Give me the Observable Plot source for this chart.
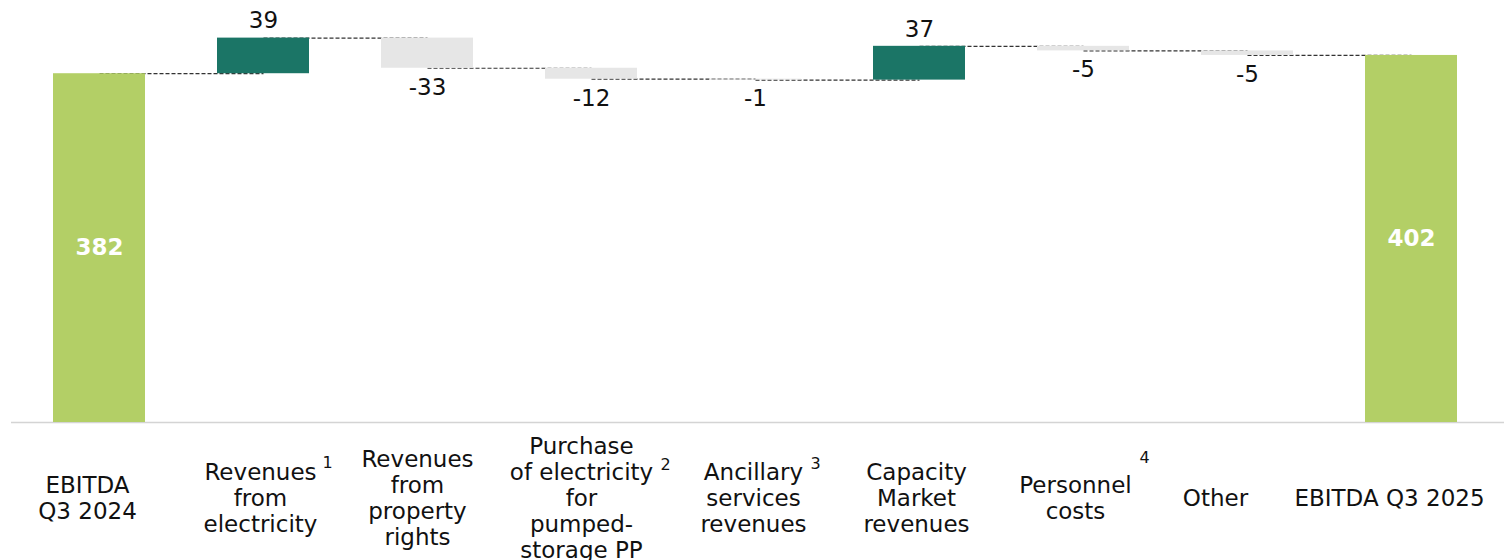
<!DOCTYPE html>
<html><head><meta charset="utf-8">
<script src="https://cdn.jsdelivr.net/npm/d3@7"></script>
<script src="https://cdn.jsdelivr.net/npm/@observablehq/plot@0.6"></script>
<style>body{margin:0;background:#fff}</style>
</head><body><div id="chart"></div>
<script>
const categories = ["EBITDA Q3 2024", "Revenues from electricity", "Revenues from property rights",
  "Purchase of electricity for pumped-storage PP", "Ancillary services revenues",
  "Capacity Market revenues", "Personnel costs", "Other", "EBITDA Q3 2025"];
const tickLabels = ["EBITDA\nQ3 2024", "Revenues\nfrom\nelectricity", "Revenues\nfrom\nproperty\nrights",
  "Purchase\nof electricity\nfor\npumped-\nstorage PP", "Ancillary\nservices\nrevenues",
  "Capacity\nMarket\nrevenues", "Personnel\ncosts", "Other", "EBITDA Q3 2025"];
const values = [382, 39, -33, -12, -1, 37, -5, -5, 402];
const kinds = ["total", "delta", "delta", "delta", "delta", "delta", "delta", "delta", "total"];
const footnoteCats = ["Revenues from electricity", "Purchase of electricity for pumped-storage PP",
  "Ancillary services revenues", "Personnel costs"];
const footnoteMarks = ["1", "2", "3", "4"];

// layout (styling) offsets, in px
const labelDx = [-12, -3, -10, -10, -2, -3, -8, -32, -22];
const noteDx = [64, 74, 60, 61];
const noteDy = [45, 47, 46, 40];

let running = 0;
const rows = categories.map((cat, i) => {
  const v = values[i];
  let y1, y2;
  if (kinds[i] === "total") { y1 = 0; y2 = v; running = v; }
  else { y1 = running; y2 = running + v; running += v; }
  const type = kinds[i] === "total" ? "total" : (v >= 0 ? "up" : "down");
  return {cat, label: tickLabels[i], value: v, y1, y2, type, end: running, text: String(v)};
});
const links = rows.slice(0, -1).map((r, i) => ({from: r.cat, to: rows[i + 1].cat, level: r.end}));
const notes = footnoteCats.map((cat, i) => ({cat, note: footnoteMarks[i]}));

const chart = Plot.plot({
  width: 1504, height: 560,
  marginLeft: 11, marginRight: 0, marginTop: 2, marginBottom: 138,
  style: {fontFamily: "'DejaVu Sans', Verdana, sans-serif", fontSize: "23px", background: "white", color: "#111"},
  x: {domain: categories, axis: null, paddingInner: 0.44, paddingOuter: 0.1, insetLeft: 25, insetRight: 31},
  y: {domain: [0, 460], axis: null},
  color: {domain: ["total", "up", "down"], range: ["#b3cf66", "#1b7566", "#e6e6e6"]},
  marks: [
    Plot.ruleY([0], {stroke: "#d4d4d4", strokeWidth: 1.5}),
    Plot.link(links, {x1: "from", x2: "to", y1: "level", y2: "level", stroke: "#333", strokeWidth: 1.2, strokeDasharray: "4,2"}),
    Plot.barY(rows, {x: "cat", y1: "y1", y2: "y2", fill: "type"}),
    Plot.text(rows.filter(d => d.type === "total"), {x: "cat", y: d => d.value / 2, text: "text", fill: "white", fontWeight: "bold", fontSize: 23}),
    Plot.text(rows.filter(d => d.type === "up"), {x: "cat", y: "y2", text: "text", dy: -17, fill: "#111", fontSize: 23}),
    Plot.text(rows.filter(d => d.type === "down"), {x: "cat", y: "y2", text: "text", dy: 19, fill: "#111", fontSize: 23}),
    ...rows.map((r, i) => Plot.text([r], {x: "cat", text: "label", frameAnchor: "bottom", dy: 75, dx: labelDx[i], lineAnchor: "middle", lineHeight: 1.13, fontSize: 23, fill: "#111"})),
    ...notes.map((n, i) => Plot.text([n], {x: "cat", text: "note", frameAnchor: "bottom", dy: noteDy[i], dx: noteDx[i], fontSize: 16, fill: "#111"}))
  ]
});
document.getElementById("chart").appendChild(chart);
</script>
</body></html>
